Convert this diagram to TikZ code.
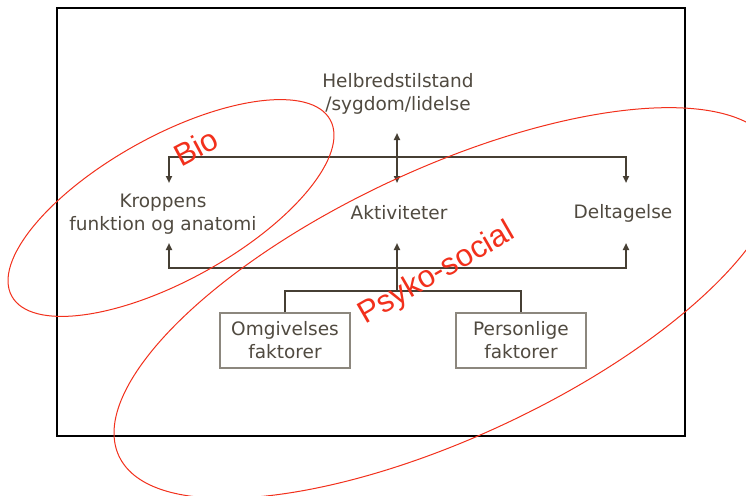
\documentclass[tikz,border=0pt]{standalone}
\usepackage{fontspec}
\setmainfont{DejaVu Sans}
\newfontfamily\redfont{Liberation Sans}
\usetikzlibrary{arrows.meta}
\definecolor{ink}{HTML}{463F34}
\definecolor{txt}{HTML}{504A40}
\definecolor{boxc}{HTML}{8C877E}
\definecolor{redc}{HTML}{F2301C}
\begin{document}
\begin{tikzpicture}[x=1pt,y=-1pt,
  lbl/.style={text=txt, font=\fontsize{18.5}{23}\selectfont, align=center, inner sep=0pt},
  fbox/.style={lbl, draw=boxc, line width=1.5pt, minimum width=130pt, minimum height=55pt},
  conn/.style={draw=ink, line width=2.2pt},
  onetip/.style={-{Triangle[length=7pt,width=6pt]}},
  twotip/.style={{Triangle[length=7pt,width=6pt]}-{Triangle[length=7pt,width=6pt]}},
  ring/.style={draw=redc, line width=1pt},
  redlbl/.style={text=redc, font=\redfont\fontsize{31}{31}\selectfont, inner sep=0pt, anchor=base}]
\useasboundingbox (0,0) rectangle (746,495);
\clip (0,0) rectangle (746,495);
\fill[white] (0,0) rectangle (746,495);
\draw[line width=1.6pt] (57,8) rectangle (685,436);

\node[lbl] (hel) at (398,94) {Helbredstilstand\\/sygdom/lidelse};
\node[lbl] (kro) at (163,214) {Kroppens\\funktion og anatomi};
\node[lbl] (akt) at (399,213) {Aktiviteter};
\node[lbl] (del) at (623,213) {Deltagelse};
\node[fbox] (omg) at (285,340.5) {Omgivelses\\faktorer};
\node[fbox] (per) at (521,340.5) {Personlige\\faktorer};

\coordinate (htop) at (397,133);
\coordinate (hbot) at (397,183);
\coordinate (tl) at (169,157);
\coordinate (tr) at (626,157);
\coordinate (kt) at (169,183);
\coordinate (dt) at (626,183);
\coordinate (bl) at (169,268);
\coordinate (br) at (626,268);
\coordinate (kb) at (169,243);
\coordinate (ab) at (397,243);
\coordinate (db) at (626,243);
\coordinate (jn) at (397,291);

\draw[conn, twotip] (htop) -- (hbot);
\draw[conn, twotip] (kt) -- (tl) -- (tr) -- (dt);
\draw[conn, twotip] (kb) -- (bl) -- (br) -- (db);
\draw[conn, onetip] (jn) -- (ab);
\draw[conn] (omg.north) -- (omg.north |- jn) -- (per.north |- jn) -- (per.north);

\draw[ring, rotate around={29:(171,208)}] (171,208) ellipse [x radius=182pt, y radius=72pt];
\draw[ring, rotate around={25:(447,303)}] (447,303) ellipse [x radius=362pt, y radius=134pt];

\node[redlbl, rotate=28] (bio) at (201,157) {Bio};
\node[redlbl, rotate=30] (psy) at (441,281) {Psyko-social};
\end{tikzpicture}
\end{document}
